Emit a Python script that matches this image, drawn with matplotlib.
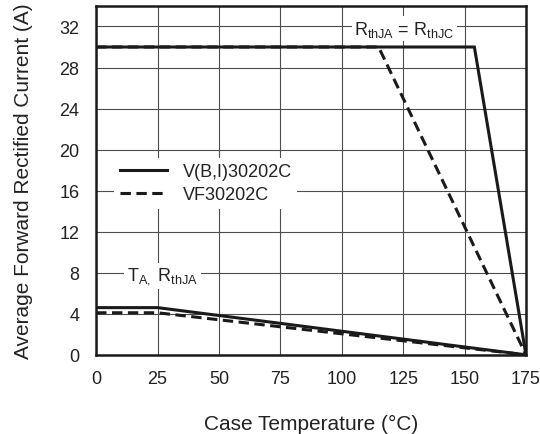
import matplotlib.pyplot as plt
import matplotlib.lines as mlines

plt.rcParams['font.family'] = ['Liberation Sans', 'DejaVu Sans']
plt.rcParams['mathtext.fontset'] = 'custom'
plt.rcParams['mathtext.rm'] = 'Liberation Sans'
plt.rcParams['mathtext.it'] = 'Liberation Sans'

# derating curves, case temperature (C) vs current (A)
temp_bi_jc = [0, 154, 175]
amps_bi_jc = [30, 30, 0]
temp_vf_jc = [0, 115, 175]
amps_vf_jc = [30, 30, 0]
temp_bi_ja = [0, 25, 175]
amps_bi_ja = [4.6, 4.6, 0]
temp_vf_ja = [0, 25, 175]
amps_vf_ja = [4.1, 4.1, 0]

x_ticks = [0, 25, 50, 75, 100, 125, 150, 175]
y_ticks = [0, 4, 8, 12, 16, 20, 24, 28, 32]

fig = plt.figure(figsize=(5.4, 4.35), dpi=100)
ax = fig.add_axes([0.178, 0.182, 0.796, 0.802])

dash = (0, (3.4, 1.8))
lw = 2.2
ax.plot(temp_bi_jc, amps_bi_jc, color='#1a1a1a', lw=lw, solid_joinstyle='miter')
ax.plot(temp_vf_jc, amps_vf_jc, color='#1a1a1a', lw=lw, linestyle=dash)
ax.plot(temp_bi_ja, amps_bi_ja, color='#1a1a1a', lw=lw, solid_joinstyle='miter')
ax.plot(temp_vf_ja, amps_vf_ja, color='#1a1a1a', lw=lw, linestyle=dash)

ax.set_xlim(0, 175)
ax.set_ylim(0, 34)
ax.set_xticks(x_ticks)
ax.set_yticks(y_ticks)
ax.tick_params(length=0, labelsize=13, labelcolor='#222222')
ax.tick_params(axis='y', pad=12)
ax.tick_params(axis='x', pad=11)
ax.grid(True, color='#4d4d4d', lw=0.8)
ax.set_axisbelow(True)
for s in ax.spines.values():
    s.set_linewidth(1.8)
    s.set_color('#1a1a1a')

ax.set_xlabel('Case Temperature (°C)', fontsize=15, labelpad=19, color='#222222')
ax.set_ylabel('Average Forward Rectified Current (A)', fontsize=15, labelpad=19,
              color='#222222')

box = dict(facecolor='white', edgecolor='none', pad=2)
ax.text(125.5, 31.8, r'R$_{\mathregular{thJA}}$ = R$_{\mathregular{thJC}}$',
        fontsize=13, ha='center', va='center', bbox=box, color='#222222')
ax.text(27, 7.7, r'T$_{\mathregular{A,}}$ R$_{\mathregular{thJA}}$',
        fontsize=13, ha='center', va='center', bbox=box, color='#222222')

h1 = mlines.Line2D([], [], color='#1a1a1a', lw=lw)
h2 = mlines.Line2D([], [], color='#1a1a1a', lw=lw, linestyle=dash)
leg = ax.legend([h1, h2], ['V(B,I)30202C', 'VF30202C'], loc='upper left',
                bbox_to_anchor=(0.042, 0.565), fontsize=13, frameon=True,
                fancybox=False, edgecolor='none', framealpha=1,
                handlelength=2.6, handletextpad=0.9, labelspacing=0.35,
                borderpad=0.3, borderaxespad=0)
for t in leg.get_texts():
    t.set_color('#222222')

fig.savefig('out.png', dpi=100)
